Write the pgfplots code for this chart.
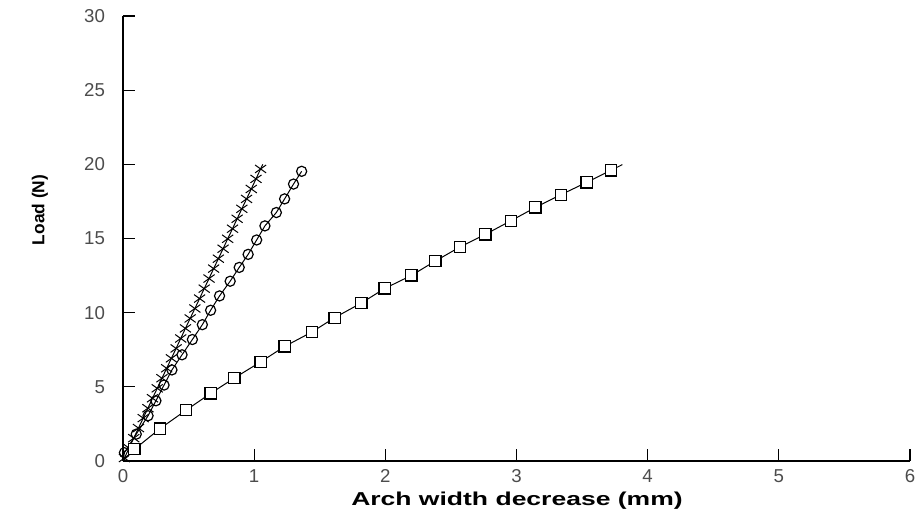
\documentclass[border=0pt]{standalone}
\usepackage{pgfplots}
\pgfplotsset{compat=1.18}
\usepackage{fontspec}
\setmainfont{Liberation Sans}
\definecolor{ticktext}{gray}{0.3}

\begin{document}
\begin{tikzpicture}[x=0.75pt,y=0.75pt]
\begin{axis}[
    name=ax, anchor=south west, at={(0,0)},
    scale only axis,
    width=590.25pt, height=333.75pt,
    xmin=0, xmax=6, ymin=0, ymax=30,
    xtick={0,1,...,6}, ytick={0,5,...,30},
    axis x line=bottom, axis y line=left,
    axis line style={-, line width=1.1pt},
    tick align=inside, major tick length=9pt,
    tick style={line width=0.9pt, black},
    /pgf/number format/assume math mode=true,
    ticklabel style={font=\fontsize{14}{16}\selectfont, text=ticktext},
    xticklabel style={yshift=-3pt},
    yticklabel style={xshift=-10pt},
    xlabel={\scalebox{1.42}[1]{\bfseries Arch width decrease (mm)}},
    xlabel style={font=\fontsize{14}{15}\selectfont, at={(axis description cs:0.5006,-0.089)}, anchor=center, inner sep=1pt},
    ylabel={\bfseries Load (N)},
    ylabel style={font=\fontsize{13}{15}\selectfont, at={(axis description cs:-0.1055,0.564)}, anchor=center, rotate=0},
    clip=false,
]
% crosses
\addplot[black, line width=0.75pt, mark=x, mark size=4.2pt, mark indices={1,...,30}, mark options={xscale=1.4, line width=0.75pt}] coordinates {
    (0.011,0.20) (0.046,0.87) (0.082,1.54) (0.118,2.22) (0.154,2.89) (0.190,3.56)
    (0.225,4.23) (0.261,4.90) (0.297,5.58) (0.333,6.25) (0.369,6.92) (0.405,7.59)
    (0.440,8.26) (0.476,8.94) (0.512,9.61) (0.548,10.28) (0.584,10.95) (0.619,11.62)
    (0.656,12.30) (0.691,12.97) (0.727,13.64) (0.763,14.31) (0.798,14.98) (0.835,15.66)
    (0.870,16.33) (0.906,17.00) (0.942,17.67) (0.978,18.34) (1.014,19.02) (1.049,19.69)
    (1.066,20.0)};
% circles
\addplot[black, line width=0.75pt, mark=o, mark size=3.8pt, mark indices={2,...,21}, mark options={line width=0.9pt}] coordinates {
    (0,0) (0.011,0.56) (0.101,1.81) (0.191,3.05) (0.251,4.06) (0.313,5.12) (0.373,6.14)
    (0.450,7.16) (0.529,8.19) (0.605,9.19) (0.668,10.16) (0.736,11.13) (0.817,12.12)
    (0.886,13.05) (0.954,13.93) (1.019,14.90) (1.082,15.85) (1.169,16.75) (1.232,17.67)
    (1.300,18.67) (1.362,19.53)};
% squares
\addplot[black, line width=0.75pt, mark=square*, mark size=4.2pt, mark indices={2,...,21}, mark options={fill=white, line width=0.9pt}] coordinates {
    (0,0) (0.087,0.79) (0.283,2.19) (0.482,3.43) (0.668,4.56) (0.850,5.60) (1.049,6.68)
    (1.232,7.72) (1.439,8.69) (1.613,9.66) (1.817,10.65) (1.995,11.63) (2.199,12.51)
    (2.381,13.48) (2.567,14.42) (2.763,15.28) (2.956,16.19) (3.144,17.09) (3.338,17.95)
    (3.534,18.78) (3.719,19.59) (3.807,19.98)};
\end{axis}
\pgfresetboundingbox
\path (-92.25pt,-50.25pt) rectangle (595.5pt,345.75pt);
\end{tikzpicture}
\end{document}
